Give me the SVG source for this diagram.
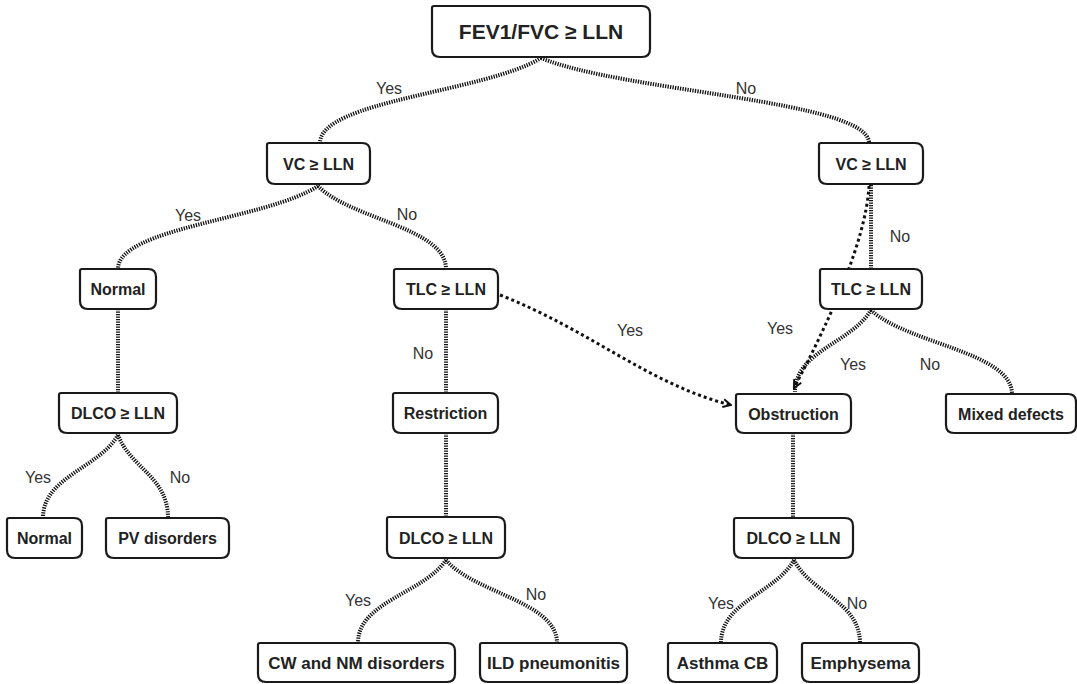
<svg xmlns="http://www.w3.org/2000/svg" width="1077" height="684" viewBox="0 0 1077 684">
  <defs>
    <style>
      .box { fill: #ffffff; stroke: #1a1a1a; stroke-width: 2.2; }
      .t { font-family: "Liberation Sans", Arial, sans-serif; font-weight: bold; font-size: 16px; fill: #222222; text-anchor: middle; }
      .big { font-size: 21px; }
      .leaf { font-size: 17px; }
      .lbl { font-family: "Liberation Sans", Arial, sans-serif; font-size: 16px; fill: #333333; text-anchor: middle; }
      .dot { fill: none; stroke: #111111; stroke-width: 4; stroke-dasharray: 1.3 1.2; }
      .dash { fill: none; stroke: #111111; stroke-width: 3; stroke-dasharray: 3 3; }
    </style>
    <marker id="chev" viewBox="0 0 10 10" refX="9" refY="5" markerWidth="10" markerHeight="10" markerUnits="userSpaceOnUse" orient="auto">
      <path d="M1,1 L9,5 L1,9" fill="none" stroke="#111111" stroke-width="2"/>
    </marker>
  </defs>
  <rect width="1077" height="684" fill="#ffffff"/>

  <!-- connectors -->
  <g id="connectors">
    <path class="dot" d="M541,58 C485.75,92 320,100.5 320,143"/>
    <path class="dot" d="M541,58 C623,92 869,100.5 869,143"/>
    <path class="dot" d="M318,186 C268,219.2 118,227.5 118,269"/>
    <path class="dot" d="M318,186 C350,219.2 446,227.5 446,269"/>
    <path class="dot" d="M871,185 L871,269"/>
    <path class="dash" d="M869,186 C866,240 830,320 794,388" marker-end="url(#chev)"/>
    <path class="dot" d="M446,309 L446,393"/>
    <path class="dash" d="M500,295 C590,330 650,385 731,405" marker-end="url(#chev)"/>
    <path class="dot" d="M871,310 C852,342.8 795,351 795,392"/>
    <path class="dot" d="M871,310 C906.25,343.6 1012,352 1012,394"/>
    <path class="dot" d="M118,309 L118,393"/>
    <path class="dot" d="M118,435 C99.25,468.2 43,476.5 43,518"/>
    <path class="dot" d="M118,435 C130.5,468.2 168,476.5 168,518"/>
    <path class="dot" d="M446,433 L446,517"/>
    <path class="dot" d="M446,560 C424,593.2 358,601.5 358,643"/>
    <path class="dot" d="M446,560 C473.75,593.2 557,601.5 557,643"/>
    <path class="dot" d="M793,433 L793,518"/>
    <path class="dot" d="M794,560 C775.75,593.2 721,601.5 721,643"/>
    <path class="dot" d="M794,560 C810.5,593.2 860,601.5 860,643"/>

    <text class="lbl" x="389" y="94">Yes</text>
    <text class="lbl" x="746" y="94">No</text>
    <text class="lbl" x="188" y="221">Yes</text>
    <text class="lbl" x="407" y="220">No</text>
    <text class="lbl" x="900" y="242">No</text>
    <text class="lbl" x="630" y="336">Yes</text>
    <text class="lbl" x="423" y="359">No</text>
    <text class="lbl" x="780" y="334">Yes</text>
    <text class="lbl" x="853" y="370">Yes</text>
    <text class="lbl" x="930" y="370">No</text>
    <text class="lbl" x="38" y="483">Yes</text>
    <text class="lbl" x="180" y="483">No</text>
    <text class="lbl" x="358" y="606">Yes</text>
    <text class="lbl" x="536" y="600">No</text>
    <text class="lbl" x="721" y="609">Yes</text>
    <text class="lbl" x="857" y="609">No</text>
  </g>

  <!-- nodes -->
  <g id="n-fev1">
    <path class="box" d="M434,6 H642 Q650,6 650,14 V49 Q650,57 642,57 H440 Q432,57 432,49 V8 Q432,6 434,6 Z"/>
    <text class="t big" x="541" y="39">FEV1/FVC ≥ LLN</text>
  </g>
  <g id="n-vc-yes">
    <path class="box" d="M269,143 H362 Q370,143 370,151 V176 Q370,184 362,184 H275 Q267,184 267,176 V145 Q267,143 269,143 Z"/>
    <text class="t" x="318.5" y="169.5">VC ≥ LLN</text>
  </g>
  <g id="n-vc-no">
    <path class="box" d="M821,143 H915 Q923,143 923,151 V176 Q923,184 915,184 H827 Q819,184 819,176 V145 Q819,143 821,143 Z"/>
    <text class="t" x="871" y="169.5">VC ≥ LLN</text>
  </g>
  <g id="n-normal-1">
    <path class="box" d="M82,269 H148 Q156,269 156,277 V301 Q156,309 148,309 H88 Q80,309 80,301 V271 Q80,269 82,269 Z"/>
    <text class="t" x="118" y="295">Normal</text>
  </g>
  <g id="n-tlc-left">
    <path class="box" d="M396,269 H490 Q498,269 498,277 V301 Q498,309 490,309 H402 Q394,309 394,301 V271 Q394,269 396,269 Z"/>
    <text class="t" x="446" y="295">TLC ≥ LLN</text>
  </g>
  <g id="n-tlc-right">
    <path class="box" d="M822,269 H914 Q922,269 922,277 V301 Q922,309 914,309 H828 Q820,309 820,301 V271 Q820,269 822,269 Z"/>
    <text class="t" x="871" y="295">TLC ≥ LLN</text>
  </g>
  <g id="n-dlco-left">
    <path class="box" d="M61,393 H169 Q177,393 177,401 V425 Q177,433 169,433 H67 Q59,433 59,425 V395 Q59,393 61,393 Z"/>
    <text class="t" x="118" y="419">DLCO ≥ LLN</text>
  </g>
  <g id="n-restriction">
    <path class="box" d="M395,393 H490 Q498,393 498,401 V425 Q498,433 490,433 H401 Q393,433 393,425 V395 Q393,393 395,393 Z"/>
    <text class="t" x="445.5" y="419">Restriction</text>
  </g>
  <g id="n-obstruction">
    <path class="box" d="M738,394 H843 Q851,394 851,402 V425 Q851,433 843,433 H744 Q736,433 736,425 V396 Q736,394 738,394 Z"/>
    <text class="t" x="793.5" y="419.5">Obstruction</text>
  </g>
  <g id="n-mixed">
    <path class="box" d="M948,394 H1068 Q1076,394 1076,402 V425 Q1076,433 1068,433 H954 Q946,433 946,425 V396 Q946,394 948,394 Z"/>
    <text class="t" x="1011" y="419.5">Mixed defects</text>
  </g>
  <g id="n-normal-2">
    <path class="box" d="M9,518 H74 Q82,518 82,526 V550 Q82,558 74,558 H15 Q7,558 7,550 V520 Q7,518 9,518 Z"/>
    <text class="t" x="44.5" y="544">Normal</text>
  </g>
  <g id="n-pv">
    <path class="box" d="M108,518 H221 Q229,518 229,526 V550 Q229,558 221,558 H114 Q106,558 106,550 V520 Q106,518 108,518 Z"/>
    <text class="t" x="167.5" y="544">PV disorders</text>
  </g>
  <g id="n-dlco-mid">
    <path class="box" d="M389,517 H497 Q505,517 505,525 V550 Q505,558 497,558 H395 Q387,558 387,550 V519 Q387,517 389,517 Z"/>
    <text class="t" x="446" y="543.5">DLCO ≥ LLN</text>
  </g>
  <g id="n-dlco-right">
    <path class="box" d="M736,518 H845 Q853,518 853,526 V550 Q853,558 845,558 H742 Q734,558 734,550 V520 Q734,518 736,518 Z"/>
    <text class="t" x="793.5" y="544">DLCO ≥ LLN</text>
  </g>
  <g id="n-cw-nm">
    <path class="box" d="M260,643 H447 Q455,643 455,651 V674 Q455,682 447,682 H266 Q258,682 258,674 V645 Q258,643 260,643 Z"/>
    <text class="t leaf" x="356.5" y="668.5">CW and NM disorders</text>
  </g>
  <g id="n-ild">
    <path class="box" d="M482,643 H619 Q627,643 627,651 V674 Q627,682 619,682 H488 Q480,682 480,674 V645 Q480,643 482,643 Z"/>
    <text class="t leaf" x="553.5" y="668.5">ILD pneumonitis</text>
  </g>
  <g id="n-asthma">
    <path class="box" d="M670,643 H769 Q777,643 777,651 V674 Q777,682 769,682 H676 Q668,682 668,674 V645 Q668,643 670,643 Z"/>
    <text class="t leaf" x="722.5" y="668.5">Asthma CB</text>
  </g>
  <g id="n-emphysema">
    <path class="box" d="M804,643 H911 Q919,643 919,651 V674 Q919,682 911,682 H810 Q802,682 802,674 V645 Q802,643 804,643 Z"/>
    <text class="t leaf" x="860.5" y="668.5">Emphysema</text>
  </g>
</svg>
